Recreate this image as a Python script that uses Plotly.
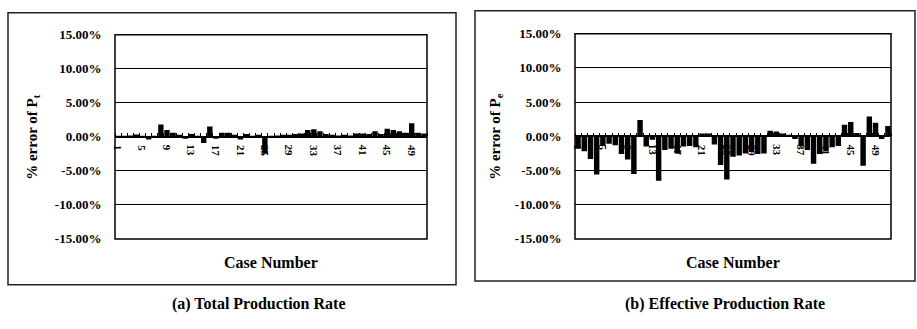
import plotly.graph_objects as go

# Case numbers and percentage errors for each production-rate model
cases = list(range(1, 52))

total_err = [
    0.1, 0.1, 0.2, 0.35, 0.1, -0.4, 0.1, 1.8, 1.0, 0.6,
    0.3, -0.2, 0.4, 0.1, -0.9, 1.5, -0.2, 0.6, 0.6, 0.3,
    -0.4, 0.4, 0.1, 0.3, -2.5, 0.1, 0.2, 0.3, 0.3, 0.4,
    0.5, 1.0, 1.1, 0.8, 0.4, 0.3, 0.2, 0.3, 0.2, 0.5,
    0.5, 0.4, 0.8, 0.4, 1.2, 1.0, 0.8, 0.6, 2.0, 0.6,
    0.5,
]

effective_err = [
    -1.8, -2.2, -3.3, -5.6, -1.4, -1.1, -1.3, -2.6, -3.4, -5.5,
    2.4, -1.5, -0.5, -6.5, -2.0, -1.8, -2.5, -1.5, -1.4, -1.6,
    0.4, 0.4, -1.2, -4.2, -6.3, -3.0, -2.8, -2.5, -2.3, -2.6,
    -2.5, 0.8, 0.7, 0.4, 0.1, -0.4, -1.5, -2.0, -4.0, -2.6,
    -2.2, -1.6, -1.4, 1.7, 2.1, 0.5, -4.3, 2.9, 2.0, -0.4,
    1.5,
]

y_ticks = [-15, -10, -5, 0, 5, 10, 15]
y_tick_text = [f"{v:.2f}%" for v in y_ticks]
case_ticks = list(range(1, 52, 4))
y_title_a = "% error of P<sub>t</sub>"
y_title_b = "% error of P<sub>e</sub>"
x_title = "Case Number"
caption_a = "(a) Total Production Rate"
caption_b = "(b) Effective Production Rate"

W, H = 917, 329
FONT = "Liberation Serif"


def fx(v):
    return v / W


def fy(v):
    return 1 - v / H


panels = [
    dict(values=total_err, xd=(115, 427), yd=(29, 243), box=(8, 6, 456, 291),
         ytitle=y_title_a, ytitle_x=33, caption=caption_a, caption_x=258),
    dict(values=effective_err, xd=(575, 891), yd=(28, 243), box=(475, 4, 915, 287),
         ytitle=y_title_b, ytitle_x=496, caption=caption_b, caption_x=725),
]

fig = go.Figure()
shapes = []
annotations = []
layout_axes = {}

for i, p in enumerate(panels, start=1):
    sx = "" if i == 1 else str(i)
    fig.add_trace(go.Bar(
        x=cases, y=p["values"], xaxis="x" + sx, yaxis="y" + sx,
        marker=dict(color="black", line=dict(width=0)),
        showlegend=False,
    ))
    ydom = [fy(p["yd"][1]), fy(p["yd"][0])]
    mid = (ydom[0] + ydom[1]) / 2
    layout_axes["xaxis" + sx] = dict(
        domain=[fx(p["xd"][0]), fx(p["xd"][1])],
        anchor="free", position=mid,
        range=[0.5, 51.5], showgrid=False, zeroline=False,
        showline=True, linecolor="black", linewidth=1.5,
        showticklabels=False, ticks="",
        minor=dict(tickmode="array", tickvals=[c + 0.5 for c in range(0, 52)],
                   ticks="inside", ticklen=3, tickwidth=1, tickcolor="black"),
        fixedrange=True,
    )
    layout_axes["yaxis" + sx] = dict(
        domain=ydom, anchor="x" + sx,
        range=[-15, 15], tickmode="array", tickvals=y_ticks, ticktext=y_tick_text,
        showgrid=True, gridcolor="black", gridwidth=1.2,
        zeroline=True, zerolinecolor="black", zerolinewidth=1.5,
        showline=False, ticks="outside", ticklen=10, tickcolor="white",
        tickfont=dict(family=FONT, size=13, color="black", weight="bold"),
        fixedrange=True,
    )
    # case-number labels, rotated, hanging just under the zero line
    for c in case_ticks:
        annotations.append(dict(
            text=str(c), xref="x" + sx, yref="y" + sx, x=c, y=0,
            textangle=90, showarrow=False, xanchor="center", yanchor="top",
            yshift=-6, font=dict(family=FONT, size=11, color="black", weight="bold"),
        ))
    # plot-area frame
    shapes.append(dict(type="rect", xref="x" + sx + " domain", yref="y" + sx + " domain",
                       x0=0, x1=1, y0=0, y1=1, line=dict(color="black", width=1.5)))
    # outer chart border
    bx0, by0, bx1, by1 = p["box"]
    shapes.append(dict(type="rect", xref="paper", yref="paper",
                       x0=fx(bx0), x1=fx(bx1), y0=fy(by1), y1=fy(by0),
                       line=dict(color="#222222", width=1.5)))
    annotations.append(dict(
        text=p["ytitle"], xref="paper", yref="paper",
        x=fx(p["ytitle_x"]), y=fy(136), textangle=-90, showarrow=False,
        xanchor="center", yanchor="middle",
        font=dict(family=FONT, size=15, color="black", weight="bold"),
    ))
    annotations.append(dict(
        text=x_title, xref="paper", yref="paper",
        x=fx((p["xd"][0] + p["xd"][1]) / 2), y=fy(268), showarrow=False,
        xanchor="center", yanchor="middle",
        font=dict(family=FONT, size=16, color="black", weight="bold"),
    ))
    annotations.append(dict(
        text=p["caption"], xref="paper", yref="paper",
        x=fx(p["caption_x"]), y=fy(311), showarrow=False,
        xanchor="center", yanchor="middle",
        font=dict(family=FONT, size=16, color="black", weight="bold"),
    ))

fig.update_layout(
    width=W, height=H, margin=dict(l=0, r=0, t=0, b=0),
    paper_bgcolor="white", plot_bgcolor="white",
    bargap=0.12, showlegend=False,
    shapes=shapes, annotations=annotations,
    **layout_axes,
)

fig.write_html("out.html")
